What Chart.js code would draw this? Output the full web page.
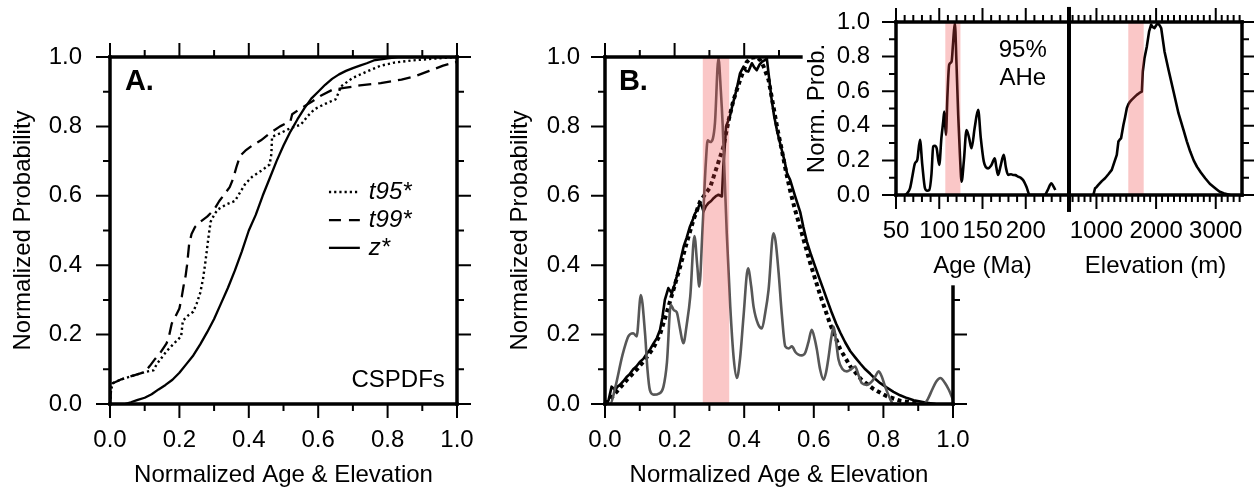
<!DOCTYPE html>
<html>
<head>
<meta charset="utf-8">
<script src="https://cdn.jsdelivr.net/npm/chart.js@4"></script>
<style>
html,body{margin:0;padding:0;background:#fff;overflow:hidden;width:1254px;height:488px;}
canvas{position:absolute;top:0;}
</style>
</head>
<body>
<canvas id="cA" style="left:0px" width="480" height="488"></canvas>
<canvas id="cB" style="left:480px" width="500" height="488"></canvas>
<canvas id="cAge" style="left:790px" width="300" height="290"></canvas>
<canvas id="cElev" style="left:1040px" width="214" height="290"></canvas>
<script>
// ---------------- DATA ----------------
// Panel A: cumulative CSPDFs  [normalized x, normalized probability]
const aT95 = [[0,0],[0.003,0.04],[0.008,0.06],[0.03,0.07],[0.067,0.082],[0.1,0.092],[0.125,0.097],[0.135,0.115],[0.15,0.135],[0.163,0.152],[0.185,0.175],[0.205,0.195],[0.21,0.24],[0.225,0.255],[0.24,0.266],[0.25,0.29],[0.26,0.32],[0.268,0.36],[0.275,0.41],[0.28,0.45],[0.285,0.49],[0.29,0.525],[0.3,0.545],[0.31,0.56],[0.335,0.575],[0.36,0.585],[0.375,0.61],[0.39,0.635],[0.41,0.655],[0.44,0.675],[0.46,0.69],[0.465,0.72],[0.467,0.77],[0.49,0.78],[0.52,0.795],[0.55,0.805],[0.57,0.83],[0.59,0.85],[0.62,0.865],[0.65,0.878],[0.66,0.9],[0.665,0.915],[0.7,0.94],[0.74,0.958],[0.78,0.975],[0.82,0.984],[0.87,0.99],[0.93,0.995],[1.0,1.0]];
const aT99 = [[0,0],[0.003,0.04],[0.008,0.06],[0.03,0.07],[0.067,0.082],[0.1,0.092],[0.115,0.11],[0.13,0.13],[0.145,0.148],[0.163,0.175],[0.17,0.195],[0.178,0.232],[0.19,0.255],[0.2,0.275],[0.207,0.31],[0.212,0.34],[0.218,0.37],[0.222,0.4],[0.225,0.43],[0.228,0.46],[0.235,0.49],[0.245,0.51],[0.26,0.525],[0.28,0.54],[0.3,0.56],[0.315,0.585],[0.33,0.605],[0.345,0.625],[0.355,0.65],[0.365,0.685],[0.375,0.715],[0.39,0.73],[0.41,0.745],[0.435,0.76],[0.46,0.78],[0.49,0.8],[0.52,0.815],[0.525,0.835],[0.55,0.852],[0.58,0.87],[0.61,0.89],[0.64,0.905],[0.67,0.91],[0.72,0.918],[0.78,0.925],[0.84,0.935],[0.88,0.945],[0.92,0.96],[0.96,0.975],[1.0,0.986]];
const aZ = [[0.043,0],[0.06,0.005],[0.08,0.012],[0.1,0.018],[0.12,0.028],[0.14,0.042],[0.16,0.055],[0.18,0.07],[0.2,0.09],[0.22,0.115],[0.24,0.14],[0.26,0.172],[0.28,0.207],[0.3,0.245],[0.32,0.29],[0.34,0.335],[0.36,0.385],[0.38,0.44],[0.4,0.5],[0.42,0.545],[0.44,0.6],[0.46,0.65],[0.48,0.7],[0.5,0.745],[0.52,0.785],[0.54,0.82],[0.56,0.852],[0.58,0.88],[0.6,0.9],[0.62,0.92],[0.64,0.937],[0.66,0.95],[0.68,0.96],[0.7,0.968],[0.72,0.975],[0.74,0.982],[0.76,0.99],[0.78,0.993],[0.8,0.996],[0.83,1.0],[1.0,1.0]];

// Panel B: normalized PDFs
const bAge = [[0,0],[0.015,0],[0.03,0.05],[0.05,0.14],[0.067,0.195],[0.081,0.204],[0.091,0.195],[0.103,0.314],[0.115,0.204],[0.122,0.1],[0.129,0.04],[0.14,0.027],[0.155,0.03],[0.168,0.05],[0.178,0.12],[0.189,0.286],[0.198,0.27],[0.206,0.265],[0.215,0.22],[0.225,0.175],[0.235,0.23],[0.245,0.31],[0.257,0.484],[0.265,0.4],[0.271,0.338],[0.28,0.5],[0.29,0.7],[0.295,0.76],[0.302,0.755],[0.31,0.765],[0.316,0.81],[0.326,0.996],[0.333,0.9],[0.338,0.808],[0.344,0.65],[0.35,0.49],[0.36,0.28],[0.37,0.13],[0.379,0.075],[0.388,0.13],[0.398,0.252],[0.411,0.391],[0.42,0.34],[0.427,0.28],[0.44,0.23],[0.451,0.218],[0.46,0.26],[0.47,0.329],[0.484,0.492],[0.49,0.47],[0.499,0.377],[0.508,0.26],[0.518,0.166],[0.528,0.16],[0.537,0.166],[0.547,0.15],[0.556,0.142],[0.565,0.14],[0.575,0.147],[0.585,0.18],[0.594,0.214],[0.602,0.19],[0.609,0.156],[0.618,0.1],[0.628,0.07],[0.635,0.09],[0.642,0.132],[0.65,0.19],[0.657,0.223],[0.664,0.18],[0.671,0.128],[0.683,0.1],[0.695,0.094],[0.707,0.1],[0.719,0.108],[0.728,0.085],[0.738,0.06],[0.752,0.055],[0.767,0.065],[0.777,0.08],[0.786,0.094],[0.795,0.08],[0.805,0.05],[0.817,0.02],[0.829,0],[0.916,0],[0.928,0.015],[0.94,0.041],[0.952,0.065],[0.964,0.075],[0.976,0.062],[0.988,0.041],[1.0,0.012]];
const bElev = [[0,0],[0.01,0.01],[0.019,0.05],[0.029,0.04],[0.036,0.05],[0.043,0.055],[0.052,0.065],[0.062,0.078],[0.07,0.085],[0.081,0.1],[0.09,0.108],[0.1,0.121],[0.11,0.13],[0.12,0.145],[0.13,0.158],[0.139,0.174],[0.149,0.19],[0.158,0.213],[0.165,0.25],[0.172,0.3],[0.182,0.334],[0.192,0.319],[0.2,0.345],[0.206,0.367],[0.216,0.41],[0.226,0.454],[0.235,0.48],[0.244,0.511],[0.252,0.53],[0.259,0.55],[0.266,0.56],[0.273,0.579],[0.278,0.57],[0.283,0.555],[0.29,0.57],[0.297,0.579],[0.305,0.585],[0.312,0.593],[0.32,0.6],[0.326,0.603],[0.336,0.598],[0.34,0.685],[0.344,0.74],[0.348,0.8],[0.359,0.829],[0.366,0.86],[0.374,0.89],[0.381,0.92],[0.388,0.953],[0.398,0.972],[0.405,0.96],[0.412,0.958],[0.422,0.982],[0.429,0.97],[0.436,0.962],[0.444,0.978],[0.451,0.986],[0.458,0.99],[0.465,0.996],[0.47,0.953],[0.479,0.876],[0.486,0.83],[0.494,0.79],[0.501,0.76],[0.508,0.732],[0.516,0.7],[0.523,0.665],[0.532,0.646],[0.546,0.6],[0.561,0.553],[0.57,0.51],[0.58,0.468],[0.592,0.43],[0.604,0.396],[0.616,0.362],[0.628,0.329],[0.64,0.295],[0.652,0.262],[0.664,0.232],[0.676,0.206],[0.69,0.178],[0.705,0.152],[0.72,0.133],[0.734,0.116],[0.748,0.1],[0.762,0.087],[0.776,0.073],[0.791,0.06],[0.81,0.047],[0.829,0.035],[0.848,0.025],[0.868,0.017],[0.887,0.011],[0.906,0.007],[0.92,0.004],[0.935,0.002],[0.95,0]];
const bFit = [[0,0],[0.02,0.02],[0.043,0.046],[0.065,0.072],[0.091,0.099],[0.115,0.128],[0.139,0.161],[0.158,0.2],[0.177,0.262],[0.197,0.33],[0.216,0.396],[0.235,0.465],[0.254,0.53],[0.273,0.583],[0.288,0.605],[0.302,0.624],[0.321,0.682],[0.34,0.74],[0.355,0.817],[0.369,0.875],[0.388,0.933],[0.407,0.985],[0.42,0.998],[0.436,1.0],[0.447,0.99],[0.456,0.972],[0.47,0.934],[0.484,0.857],[0.496,0.79],[0.508,0.732],[0.52,0.67],[0.532,0.615],[0.546,0.56],[0.566,0.49],[0.59,0.405],[0.618,0.315],[0.647,0.23],[0.676,0.158],[0.705,0.108],[0.737,0.07],[0.772,0.043],[0.81,0.022],[0.85,0.009],[0.89,0.003],[0.93,0]];

// Inset: AHe age PDF [Ma, prob] and elevation PDF [m, prob]
const insetAge = [[60.4,0],[63,0.01],[66.2,0.039],[69,0.11],[71.9,0.183],[74.6,0.203],[77.7,0.319],[80.4,0.174],[83.5,0.039],[86,0.025],[88.5,0.029],[91,0.12],[93,0.28],[95,0.285],[97,0.27],[100,0.174],[102.5,0.33],[104.6,0.425],[105.8,0.483],[107.7,0.347],[109.5,0.58],[111.5,0.753],[114.3,0.772],[116,0.88],[118,0.994],[120,0.75],[121.9,0.463],[124,0.22],[125.8,0.077],[128.5,0.2],[131.5,0.376],[134.5,0.33],[137.3,0.27],[141,0.39],[145,0.492],[148,0.33],[151.5,0.193],[154,0.16],[156.5,0.154],[160,0.17],[164.2,0.212],[166,0.16],[168,0.116],[171,0.17],[174.6,0.232],[177,0.16],[179.6,0.116],[183,0.12],[185.4,0.116],[188,0.115],[191.1,0.106],[194,0.1],[196.9,0.087],[200.8,0.048],[204.6,0],[221.9,0],[225.5,0.03],[229.6,0.068],[232,0.05],[234.2,0.029]];
const insetElev = [[948,0],[977,0.039],[1000,0.045],[1032,0.058],[1090,0.08],[1144,0.097],[1200,0.12],[1257,0.145],[1300,0.19],[1341,0.232],[1368,0.309],[1390,0.32],[1413,0.328],[1452,0.405],[1480,0.45],[1509,0.502],[1535,0.525],[1564,0.54],[1590,0.55],[1620,0.56],[1650,0.57],[1677,0.579],[1720,0.59],[1761,0.598],[1777,0.714],[1805,0.79],[1845,0.859],[1883,0.946],[1917,0.985],[1945,0.97],[1973,0.965],[2000,0.98],[2029,0.994],[2060,0.98],[2085,0.965],[2141,0.83],[2208,0.724],[2292,0.598],[2375,0.473],[2459,0.376],[2515,0.31],[2572,0.251],[2630,0.2],[2684,0.164],[2750,0.13],[2823,0.097],[2900,0.065],[2991,0.039],[3060,0.02],[3131,0.01],[3243,0]];

// Highlight bands (95% AHe window)
const bandB = [0.281, 0.357];
const bandAge = [107, 124.5];
const bandElev = [1534, 1792];

// Tick values
const probMajor = [0, 0.2, 0.4, 0.6, 0.8, 1.0];
const probMinor = [0.1, 0.3, 0.5, 0.7, 0.9];
const normMajor = [0, 0.2, 0.4, 0.6, 0.8, 1.0];
const normMinor = [0.1, 0.3, 0.5, 0.7, 0.9];
const ageMajor = [50, 100, 150, 200];
const ageMinor = [60, 70, 80, 90, 110, 120, 130, 140, 160, 170, 180, 190, 210, 220, 230, 240];
const elevMajor = [1000, 2000, 3000];
const elevMinor = [600, 700, 800, 900, 1100, 1200, 1300, 1400, 1500, 1600, 1700, 1800, 1900, 2100, 2200, 2300, 2400, 2500, 2600, 2700, 2800, 2900, 3100, 3200, 3300, 3400];
const AGE_MIN = 50, AGE_MAX = 250, ELEV_MIN = 540, ELEV_MAX = 3440;

// ---------------- SETUP ----------------
const FONT = "'Liberation Sans', Arial, Helvetica, sans-serif";
const FS = 24;
Chart.defaults.font.family = FONT;
Chart.defaults.font.size = FS;
Chart.defaults.color = '#000';

const FRAME = {};
const framePlugin = {
  id: 'panelFrame',
  afterDatasetsDraw(chart) {
    const cfg = FRAME[chart.canvas.id]; if (!cfg) return;
    const ctx = chart.ctx, xs = chart.scales.x, ys = chart.scales.y, ca = chart.chartArea;
    const X = v => xs.getPixelForValue(v), Y = v => ys.getPixelForValue(v);
    ctx.save();
    if (cfg.band) {
      ctx.fillStyle = 'rgba(240,70,70,0.3)';
      const x0 = X(cfg.band[0]), x1 = X(cfg.band[1]);
      ctx.fillRect(x0, ca.top, x1 - x0, ca.bottom - ca.top);
    }
    ctx.strokeStyle = '#000'; ctx.setLineDash([]); ctx.lineCap = 'butt';
    for (const t of cfg.ticks) {
      ctx.lineWidth = 2;
      ctx.beginPath();
      for (const v of t.vals) {
        if (t.side === 'left' || t.side === 'right') {
          const y = Y(v), x = X(t.at), d = t.side === 'left' ? -1 : 1;
          ctx.moveTo(x, y); ctx.lineTo(x + d * t.len, y);
        } else {
          const x = X(v), y = Y(t.at), d = t.side === 'top' ? -1 : 1;
          ctx.moveTo(x, y); ctx.lineTo(x, y + d * t.len);
        }
      }
      ctx.stroke();
    }
    for (const l of cfg.lines) {
      ctx.lineWidth = l[4] || 3.5;
      ctx.lineCap = l[5] || 'square';
      ctx.beginPath(); ctx.moveTo(X(l[0]), Y(l[1])); ctx.lineTo(X(l[2]), Y(l[3])); ctx.stroke();
    }
    ctx.fillStyle = '#000';
    for (const t of (cfg.texts || [])) {
      ctx.font = t.font; ctx.textAlign = t.align; ctx.textBaseline = t.base;
      ctx.fillText(t.text, X(t.x), Y(t.y));
    }
    for (const e of (cfg.legend || [])) {
      ctx.lineWidth = e.width; ctx.setLineDash(e.dash); ctx.lineCap = 'butt';
      ctx.beginPath(); ctx.moveTo(X(e.x0), Y(e.y)); ctx.lineTo(X(e.x1), Y(e.y)); ctx.stroke();
      ctx.setLineDash([]);
      ctx.font = 'italic ' + FS + 'px ' + FONT; ctx.textAlign = 'left'; ctx.textBaseline = 'middle';
      ctx.fillText(e.label, X(e.xt), Y(e.y));
    }
    ctx.restore();
  }
};
Chart.register(framePlugin);

function ds(pairs, color, width, dash, smooth) {
  return {
    data: pairs.map(p => ({x: p[0], y: p[1]})),
    borderColor: color, borderWidth: width, borderDash: dash || [],
    pointRadius: 0, fill: false, tension: 0,
    cubicInterpolationMode: smooth ? 'monotone' : 'default',
    borderJoinStyle: 'round', borderCapStyle: 'butt'
  };
}
function noPad(s) { s.paddingLeft = 0; s.paddingRight = 0; s.paddingTop = 0; s.paddingBottom = 0; }
function xAxis(min, max, ticks, fmt, title, h, pad, tpad) {
  return {
    type: 'linear', position: 'bottom', min, max,
    grid: {display: false, drawTicks: false}, border: {display: false},
    afterBuildTicks: s => { s.ticks = ticks.map(v => ({value: v})); },
    afterFit: s => { s.height = h; noPad(s); },
    ticks: {padding: pad, autoSkip: false, maxRotation: 0, minRotation: 0, callback: fmt, font: {size: FS, lineHeight: 1.2}},
    title: {display: true, text: title, font: {size: FS, lineHeight: 1}, padding: {top: 0, bottom: tpad}}
  };
}
function yAxis(ticks, title, w, pad, tpad, show) {
  return {
    type: 'linear', position: 'left', min: 0, max: 1, display: show,
    grid: {display: false, drawTicks: false}, border: {display: false},
    afterBuildTicks: s => { s.ticks = ticks.map(v => ({value: v})); },
    afterFit: s => { s.width = w; noPad(s); },
    ticks: {padding: pad, autoSkip: false, callback: v => v.toFixed(1), font: {size: FS, lineHeight: 1.2}},
    title: {display: !!title, text: title || '', font: {size: FS, lineHeight: 1}, padding: {top: tpad, bottom: 0}}
  };
}
function makeChart(id, datasets, x, y, padding) {
  return new Chart(document.getElementById(id), {
    type: 'line',
    data: {datasets},
    options: {
      responsive: false, animation: false, events: [],
      layout: {padding},
      plugins: {legend: {display: false}, tooltip: {enabled: false}},
      scales: {x, y}
    }
  });
}
const f1 = v => Number(v).toFixed(1);
const f0 = v => String(v);

// ---------------- PANEL A ----------------
FRAME.cA = {
  lines: [[0,0,1,0],[1,0,1,1],[1,1,0,1],[0,1,0,0]],
  ticks: [
    {side:'left', at:0, vals:probMajor, len:14}, {side:'left', at:0, vals:probMinor, len:7},
    {side:'right', at:1, vals:probMajor, len:14}, {side:'right', at:1, vals:probMinor, len:7},
    {side:'bottom', at:0, vals:normMajor, len:14}, {side:'bottom', at:0, vals:normMinor, len:7},
    {side:'top', at:1, vals:normMajor, len:14}, {side:'top', at:1, vals:normMinor, len:7}
  ],
  texts: [
    {text:'A.', x:0.043, y:0.905, font:'bold 29px ' + FONT, align:'left', base:'alphabetic'},
    {text:'CSPDFs', x:0.965, y:0.069, font:FS + 'px ' + FONT, align:'right', base:'middle'}
  ],
  legend: [
    {label:'t95*', x0:0.631, x1:0.72, xt:0.746, y:0.611, width:2.4, dash:[2.2,3]},
    {label:'t99*', x0:0.631, x1:0.72, xt:0.746, y:0.530, width:2.3, dash:[12,8]},
    {label:'z*',   x0:0.631, x1:0.72, xt:0.746, y:0.450, width:2.3, dash:[]}
  ]
};
makeChart('cA', [
  ds(aT95, '#000', 2.4, [2.2, 3]),
  ds(aT99, '#000', 2.3, [13, 7]),
  ds(aZ, '#000', 2.3)
], xAxis(0, 1, normMajor, f1, 'Normalized Age & Elevation', 84, 22, 0.5),
   yAxis(probMajor, 'Normalized Probability', 110, 28, 11.5, true),
   {left: 0, top: 57, right: 23, bottom: 0});

// ---------------- PANEL B ----------------
FRAME.cB = {
  band: bandB,
  lines: [[0,0,1,0],[0,0,0,1],[0,1,0.563,1],[1,0,1,0.337]],
  ticks: [
    {side:'left', at:0, vals:probMajor, len:14}, {side:'left', at:0, vals:probMinor, len:7},
    {side:'right', at:1, vals:[0, 0.2], len:14}, {side:'right', at:1, vals:[0.1, 0.3], len:7},
    {side:'bottom', at:0, vals:normMajor, len:14}, {side:'bottom', at:0, vals:normMinor, len:7},
    {side:'top', at:1, vals:[0, 0.2, 0.4], len:14}, {side:'top', at:1, vals:[0.1, 0.3, 0.5], len:7}
  ],
  texts: [
    {text:'B.', x:0.04, y:0.905, font:'bold 29px ' + FONT, align:'left', base:'alphabetic'}
  ]
};
makeChart('cB', [
  ds(bAge, '#575757', 2.6, [], true),
  ds(bFit, '#000', 4, [4, 3.5]),
  ds(bElev, '#000', 2.6)
], xAxis(0, 1, normMajor, f1, 'Normalized Age & Elevation', 84, 22, 0.5),
   yAxis(probMajor, 'Normalized Probability', 125, 25, 28, true),
   {left: 0, top: 57, right: 27, bottom: 0});

// ---------------- INSET: AGE ----------------
FRAME.cAge = {
  band: bandAge,
  lines: [[AGE_MIN,0,AGE_MAX,0],[AGE_MIN,0,AGE_MIN,1],[AGE_MIN,1,AGE_MAX,1],[AGE_MAX,-0.098,AGE_MAX,1.087,4,'butt']],
  ticks: [
    {side:'left', at:AGE_MIN, vals:probMajor, len:14}, {side:'left', at:AGE_MIN, vals:probMinor, len:7},
    {side:'bottom', at:0, vals:ageMajor, len:14}, {side:'bottom', at:0, vals:ageMinor, len:7},
    {side:'top', at:1, vals:ageMajor, len:14}, {side:'top', at:1, vals:ageMinor, len:7}
  ],
  texts: [
    {text:'95%', x:196.5, y:0.835, font:FS + 'px ' + FONT, align:'center', base:'middle'},
    {text:'AHe', x:196.5, y:0.672, font:FS + 'px ' + FONT, align:'center', base:'middle'}
  ]
};
makeChart('cAge', [
  ds(insetAge, '#000', 2.6, [], true)
], xAxis(AGE_MIN, AGE_MAX, ageMajor, f0, 'Age (Ma)', 95, 22, 11.5),
   yAxis(probMajor, 'Norm. Prob.', 106, 26, 15.5, true),
   {left: 0, top: 22, right: 21, bottom: 0});

// ---------------- INSET: ELEVATION ----------------
FRAME.cElev = {
  band: bandElev,
  lines: [[ELEV_MIN,0,ELEV_MAX,0],[ELEV_MIN,1,ELEV_MAX,1],[ELEV_MAX,0,ELEV_MAX,1]],
  ticks: [
    {side:'right', at:ELEV_MAX, vals:probMajor, len:12}, {side:'right', at:ELEV_MAX, vals:probMinor, len:7},
    {side:'bottom', at:0, vals:elevMajor, len:14}, {side:'bottom', at:0, vals:elevMinor, len:7},
    {side:'top', at:1, vals:elevMajor, len:14}, {side:'top', at:1, vals:elevMinor, len:7}
  ]
};
makeChart('cElev', [
  ds(insetElev, '#000', 2.6)
], xAxis(ELEV_MIN, ELEV_MAX, elevMajor, f0, 'Elevation (m)', 95, 22, 11.5),
   yAxis(probMajor, '', 0, 0, 0, false),
   {left: 29, top: 22, right: 12, bottom: 0});
</script>
</body>
</html>
